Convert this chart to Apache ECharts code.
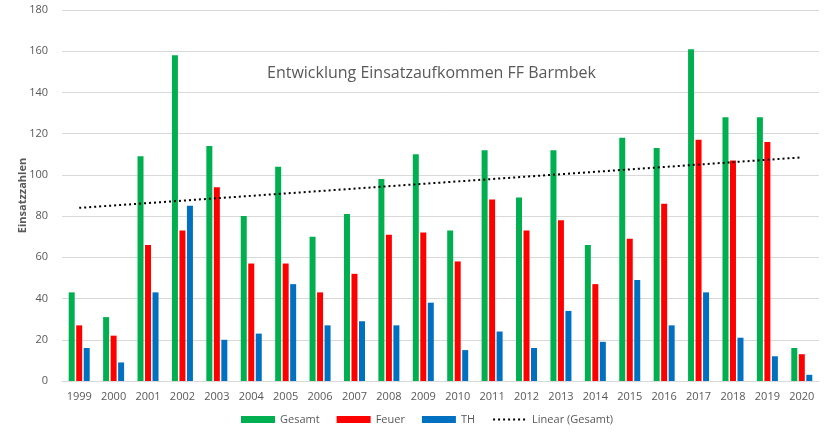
<!DOCTYPE html>
<html><head><meta charset="utf-8">
<script src="https://cdn.jsdelivr.net/npm/echarts@6/dist/echarts.min.js"></script>
<style>html,body{margin:0;padding:0;background:#fff}#c{width:832px;height:440px}</style>
</head><body><div id="c"></div>
<script>
const years = ['1999','2000','2001','2002','2003','2004','2005','2006','2007','2008','2009','2010','2011','2012','2013','2014','2015','2016','2017','2018','2019','2020'];
const gesamt = [43,31,109,158,114,80,104,70,81,98,110,73,112,89,112,66,118,113,161,128,128,16];
const feuer  = [27,22,66,73,94,57,57,43,52,71,72,58,88,73,78,47,69,86,117,107,116,13];
const th     = [16,9,43,85,20,23,47,27,29,27,38,15,24,16,34,19,49,27,43,21,12,3];
const trend  = [84,null,null,null,null,null,null,null,null,null,null,null,null,null,null,null,null,null,null,null,null,108.5];
const yTicks = [0,20,40,60,80,100,120,140,160,180];

const font = 'Open Sans, Noto Sans, sans-serif';
const chart = echarts.init(document.getElementById('c'));
chart.setOption({
  animation:false,
  textStyle:{fontFamily:font},
  title:{text:'Entwicklung Einsatzaufkommen FF Barmbek',left:262,top:60,
    textStyle:{fontFamily:font,fontSize:16,fontWeight:'normal',color:'#595959'}},
  grid:{left:62,right:13,top:10,bottom:59},
  legend:{bottom:10,left:236,itemWidth:34,itemHeight:7,itemGap:17,
    textStyle:{color:'#595959',fontSize:11},
    data:[{name:'Gesamt',icon:'rect'},{name:'Feuer',icon:'rect'},{name:'TH',icon:'rect'},
          {name:'Linear (Gesamt)',itemStyle:{opacity:0}}]},
  xAxis:{type:'category',data:years,
    axisLine:{lineStyle:{color:'#d9d9d9'}},axisTick:{show:false},
    axisLabel:{color:'#595959',fontSize:11,margin:10}},
  yAxis:{type:'value',min:yTicks[0],max:yTicks[yTicks.length-1],interval:20,
    name:'Einsatzzahlen',nameLocation:'middle',nameGap:34,nameMoveOverlap:false,
    nameTextStyle:{fontWeight:'bold',color:'#595959',fontSize:11},
    axisLine:{show:false},axisTick:{show:false},
    axisLabel:{color:'#595959',fontSize:11,margin:14},
    splitLine:{lineStyle:{color:'#d9d9d9'}}},
  series:[
    {name:'Gesamt',type:'bar',data:gesamt,barWidth:6,barGap:'25%',itemStyle:{color:'#00B050'}},
    {name:'Feuer',type:'bar',data:feuer,barWidth:6,barGap:'25%',itemStyle:{color:'#FF0000'}},
    {name:'TH',type:'bar',data:th,barWidth:6,barGap:'25%',itemStyle:{color:'#0070C0'}},
    {name:'Linear (Gesamt)',type:'line',data:trend,connectNulls:true,symbol:'none',
      lineStyle:{color:'#000',width:2,type:[2,3]},itemStyle:{color:'#000'}}
  ]
});
</script></body></html>
